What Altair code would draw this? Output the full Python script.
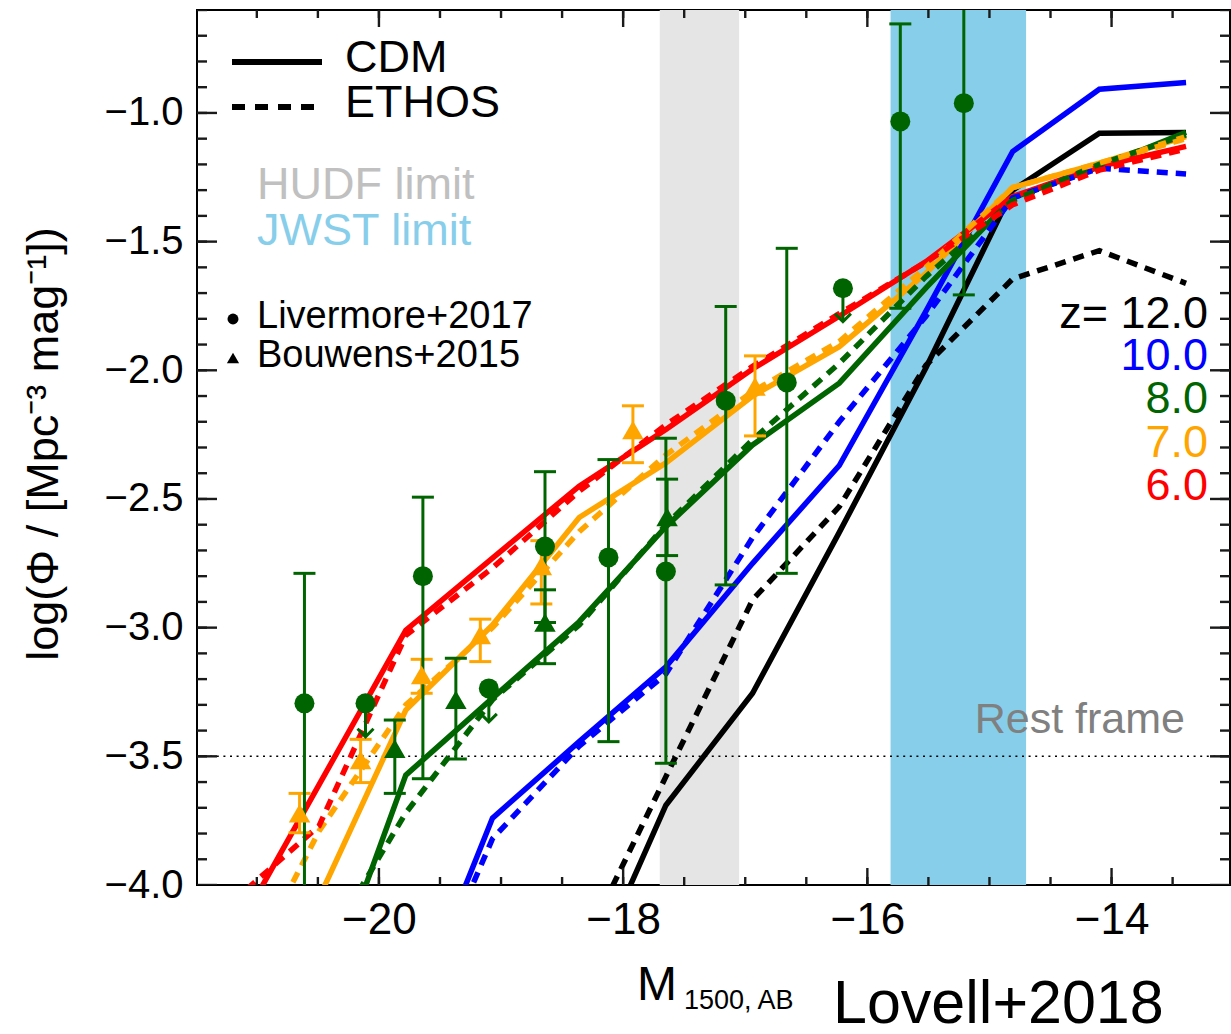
import altair as alt
import pandas as pd

FONT = "Liberation Sans, Arial, Helvetica, sans-serif"

# ---------------- model luminosity functions ----------------
M_grid = [-21.20, -20.49, -19.78, -19.07, -18.36, -17.65, -16.94, -16.23, -15.52, -14.81, -14.10, -13.39]

cdm_z6 = [-4.21, -3.61, -3.01, -2.73, -2.45, -2.23, -1.995, -1.79, -1.578, -1.325, -1.208, -1.13]
cdm_z7 = [None, -4.05, -3.32, -2.99, -2.572, -2.36, -2.10, -1.908, -1.623, -1.29, -1.195, -1.092]
cdm_z8 = [None, -4.50, -3.573, -3.274, -2.977, -2.608, -2.29, -2.05, -1.68, -1.33, -1.21, -1.075]
cdm_z10 = [None, None, -4.58, -3.74, -3.443, -3.152, -2.75, -2.37, -1.77, -1.15, -0.908, -0.882]
cdm_z12 = [None, None, None, None, -4.45, -3.69, -3.255, -2.63, -1.99, -1.30, -1.079, -1.076]

ethos_z6 = [-4.065, -3.77, -3.03, -2.768, -2.47, -2.212, -1.985, -1.78, -1.58, -1.357, -1.222, -1.14]
ethos_z7 = [-4.45, -3.79, -3.30, -3.00, -2.627, -2.329, -2.083, -1.888, -1.60, -1.29, -1.195, -1.10]
ethos_z8 = [None, -4.28, -3.72, -3.28, -2.99, -2.60, -2.27, -1.973, -1.636, -1.34, -1.20, -1.085]
ethos_z10 = [None, None, -4.6, -3.82, -3.46, -3.18, -2.65, -2.20, -1.79, -1.33, -1.215, -1.237]
ethos_z12 = [None, None, None, None, -4.27, -3.579, -2.892, -2.53, -1.98, -1.645, -1.535, -1.662]

z_names = ["12.0", "10.0", "8.0", "7.0", "6.0"]
z_colors = ["#000000", "#0000FF", "#006400", "#FFA500", "#FF0000"]

# ---------------- observations ----------------
# Livermore+2017 (green circles)
liv_M = [-20.61, -20.11, -19.64, -19.10, -18.64, -18.12, -17.65, -17.16, -16.66, -16.20, -15.73, -15.21]
liv_phi = [-3.294, -3.294, -2.80, -3.236, -2.685, -2.727, -2.782, -2.118, -2.047, -1.681, -1.033, -0.962]
liv_hi = [-2.789, None, -2.493, None, -2.394, -2.347, -2.264, -1.752, -1.526, None, -0.654, -0.45]
liv_lo = [-4.50, None, -3.587, None, -2.98, -3.443, -3.527, -2.834, -2.789, None, -1.759, -1.707]
liv_uplim = [False, True, False, True, False, False, False, False, False, True, False, False]

# Bouwens+2015 z=8 (green triangles)
b8_M = [-19.87, -19.37, -18.64, -17.64]
b8_phi = [-3.47, -3.28, -2.98, -2.57]
b8_hi = [-3.359, -3.119, -2.853, -2.423]
b8_lo = [-3.644, -3.51, -3.14, -2.72]

# Bouwens+2015 z=7 (orange triangles)
b7_M = [-20.65, -20.15, -19.65, -19.17, -18.67, -17.92, -16.92]
b7_phi = [-3.721, -3.514, -3.184, -3.028, -2.76, -2.232, -2.063]
b7_hi = [-3.644, -3.434, -3.123, -2.967, -2.662, -2.138, -1.944]
b7_lo = [-3.797, -3.602, -3.255, -3.132, -2.908, -2.359, -2.255]

# survey limits (shaded bands)
hudf_band = [-17.70, -17.05]
jwst_band = [-15.81, -14.70]

# axes
x_labels = [-20, -18, -16, -14]
x_minor = [-21.0 + 0.5 * i for i in range(16)]
y_labels = [-4.0, -3.5, -3.0, -2.5, -2.0, -1.5, -1.0]
y_minor = [round(-3.9 + 0.1 * i, 1) for i in range(34)]
rest_frame_level = -3.5

# ---------------- scales ----------------
W, H = 1033, 875
X_DOM = [-21.49, -13.03]
Y_DOM = [-4.0, -0.6]
xs = alt.Scale(domain=X_DOM, nice=False, zero=False)
ys = alt.Scale(domain=Y_DOM, nice=False, zero=False)
PX_PER_X = W / (X_DOM[1] - X_DOM[0])
PX_PER_Y = H / (Y_DOM[1] - Y_DOM[0])

x_axis = alt.Axis(values=x_labels, format="d", ticks=False, domain=False, grid=False,
                  labelFont=FONT, labelFontSize=44, labelColor="black", labelPadding=13,
                  title=None, labelFlush=False)
y_axis = alt.Axis(values=y_labels, format=".1f", ticks=False, domain=False, grid=False,
                  labelFont=FONT, labelFontSize=40, labelColor="black", labelPadding=14,
                  title=None, labelFlush=False)


def X(f):
    return alt.X(f, type="quantitative", scale=xs, axis=x_axis)


def Y(f):
    return alt.Y(f, type="quantitative", scale=ys, axis=y_axis)


def model_rows(series_list, model):
    rows = []
    for zi, series in enumerate(series_list):
        for m, p in zip(M_grid, series):
            if p is not None:
                rows.append({"M": m, "phi": p, "z": z_names[zi], "model": model})
    return pd.DataFrame(rows)


cdm_df = model_rows([cdm_z12, cdm_z10, cdm_z8, cdm_z7, cdm_z6], "CDM")
ethos_df = model_rows([ethos_z12, ethos_z10, ethos_z8, ethos_z7, ethos_z6], "ETHOS")

color_enc = alt.Color("z:N", scale=alt.Scale(domain=z_names, range=z_colors), legend=None)

liv_df = pd.DataFrame({"M": liv_M, "phi": liv_phi, "hi": liv_hi, "lo": liv_lo, "ul": liv_uplim})
liv_err = liv_df.dropna(subset=["hi"])
liv_ul = liv_df[liv_df["ul"]].copy()
liv_ul["tip"] = liv_ul["phi"] - 0.13

b8_df = pd.DataFrame({"M": b8_M, "phi": b8_phi, "hi": b8_hi, "lo": b8_lo})
b7_df = pd.DataFrame({"M": b7_M, "phi": b7_phi, "hi": b7_hi, "lo": b7_lo})

one = pd.DataFrame({"a": [0]})

# ---------------- inward frame ticks on all four sides ----------------
TICK_COLOR = "#1a1a1a"
tk_M, tk_lo, tk_hi = [], [], []
for vals, ln in ((x_minor, 8), (x_labels, 17)):
    dy = ln / PX_PER_Y
    for v in vals:
        tk_M += [float(v), float(v)]
        tk_lo += [Y_DOM[0], Y_DOM[1] - dy]
        tk_hi += [Y_DOM[0] + dy, Y_DOM[1]]
xtick_df = pd.DataFrame({"M": tk_M, "lo": tk_lo, "hi": tk_hi})

ty_P, ty_a, ty_b = [], [], []
for vals, ln in ((y_minor, 10), (y_labels, 20)):
    dx = ln / PX_PER_X
    for v in vals:
        ty_P += [float(v), float(v)]
        ty_a += [X_DOM[0], X_DOM[1] - dx]
        ty_b += [X_DOM[0] + dx, X_DOM[1]]
ytick_df = pd.DataFrame({"phi": ty_P, "xa": ty_a, "xb": ty_b})

xtick_layer = alt.Chart(xtick_df).mark_rule(color=TICK_COLOR, strokeWidth=2.4, clip=True).encode(
    x=X("M"), y=Y("lo"), y2="hi")
ytick_layer = alt.Chart(ytick_df).mark_rule(color=TICK_COLOR, strokeWidth=2.4, clip=True).encode(
    y=Y("phi"), x=X("xa"), x2="xb")

# ---------------- layers ----------------
bands = alt.Chart(pd.DataFrame({
    "x0": [hudf_band[0], jwst_band[0]], "x1": [hudf_band[1], jwst_band[1]],
    "c": ["#e5e5e5", "#87CEEB"]})).mark_rect(clip=True).encode(
    x=X("x0"), x2="x1", y=alt.value(0), y2=alt.value(H), color=alt.Color("c:N", scale=None))

rest_line = alt.Chart(one).mark_rule(color="black", strokeWidth=1.6, strokeDash=[2, 4.6]).encode(
    y=Y("v"), x=alt.value(0), x2=alt.value(W)).transform_calculate(v=str(rest_frame_level))

solid = alt.Chart(cdm_df).mark_line(strokeWidth=5.5, clip=True, strokeJoin="miter").encode(
    x=X("M"), y=Y("phi"), color=color_enc, detail="z:N")
dashed = alt.Chart(ethos_df).mark_line(strokeWidth=5.5, clip=True, strokeDash=[11, 8]).encode(
    x=X("M"), y=Y("phi"), color=color_enc, detail="z:N")

GREEN = "#006400"
ORANGE = "#FFA500"


def errbars(df, color):
    bar = alt.Chart(df).mark_rule(color=color, strokeWidth=3, clip=True).encode(
        x=X("M"), y=Y("lo"), y2="hi")
    cap_hi = alt.Chart(df).mark_tick(color=color, orient="horizontal", size=22, thickness=3,
                                     clip=True, opacity=1).encode(x=X("M"), y=Y("hi"))
    cap_lo = alt.Chart(df).mark_tick(color=color, orient="horizontal", size=22, thickness=3,
                                     clip=True, opacity=1).encode(x=X("M"), y=Y("lo"))
    return [bar, cap_hi, cap_lo]


err_layers = errbars(b7_df, ORANGE) + errbars(b8_df, GREEN) + errbars(liv_err, GREEN)

ul_shaft = alt.Chart(liv_ul).mark_rule(color=GREEN, strokeWidth=3).encode(
    x=X("M"), y=Y("phi"), y2="tip")
ul_head = alt.Chart(liv_ul).mark_point(shape="M-1,-1L0,0L1,-1", filled=False, size=256,
                                       strokeWidth=3, color=GREEN, opacity=1).encode(
    x=X("M"), y=Y("tip"))

b7_pts = alt.Chart(b7_df).mark_point(shape="triangle-up", filled=True, size=460, color=ORANGE,
                                     opacity=1).encode(x=X("M"), y=Y("phi"))
b8_pts = alt.Chart(b8_df).mark_point(shape="triangle-up", filled=True, size=460, color=GREEN,
                                     opacity=1).encode(x=X("M"), y=Y("phi"))
liv_pts = alt.Chart(liv_df).mark_point(shape="circle", filled=True, size=400, color=GREEN,
                                       opacity=1).encode(x=X("M"), y=Y("phi"))


# ---------------- annotations ----------------
def label(txt, x, y, size, color="black", align="left", baseline="alphabetic", angle=0):
    return alt.Chart(one).mark_text(text=txt, font=FONT, fontSize=size, color=color, align=align,
                                    baseline=baseline, angle=angle).encode(
        x=alt.value(x), y=alt.value(y))


leg_solid = alt.Chart(one).mark_rule(color="black", strokeWidth=6).encode(
    x=alt.value(35), x2=alt.value(125), y=alt.value(52))
leg_dash = alt.Chart(one).mark_rule(color="black", strokeWidth=6, strokeDash=[13, 10]).encode(
    x=alt.value(35), x2=alt.value(125), y=alt.value(97))
leg_circ = alt.Chart(one).mark_point(shape="circle", filled=True, size=120, color="black",
                                     opacity=1).encode(x=alt.value(36), y=alt.value(309))
leg_tri = alt.Chart(one).mark_point(shape="triangle-up", filled=True, size=150, color="black",
                                    opacity=1).encode(x=alt.value(36), y=alt.value(348))

texts = [
    label("CDM", 148, 62, 45),
    label("ETHOS", 148, 107, 45),
    label("HUDF limit", 60, 189, 45, color="#c0c0c0"),
    label("JWST limit", 60, 235, 45, color="#87CEEB"),
    label("Livermore+2017", 60, 318, 38),
    label("Bouwens+2015", 60, 357, 38),
    label("z= 12.0", 1011, 318, 45, align="right"),
    label("10.0", 1011, 360, 45, color="#0000FF", align="right"),
    label("8.0", 1011, 403, 45, color="#006400", align="right"),
    label("7.0", 1011, 447, 45, color="#FFA500", align="right"),
    label("6.0", 1011, 490, 45, color="#FF0000", align="right"),
    label("Rest frame", 988, 723, 43, color="#808080", align="right"),
    label("M", 440, 990, 48),
    label("1500, AB", 487, 999, 27),
    label("Lovell+2018", 636, 1013, 61),
    label("log(\u03a6 / [Mpc\u207b\u00b3 mag\u207b\u00b9])", -139, 434, 45, align="center", angle=270),
]

chart = alt.layer(
    bands, rest_line, solid, dashed, *err_layers, ul_shaft, ul_head,
    b7_pts, b8_pts, liv_pts, leg_solid, leg_dash, leg_circ, leg_tri, *texts,
    xtick_layer, ytick_layer
).properties(
    width=W, height=H,
    autosize=alt.AutoSizeParams(type="none"),
    padding={"left": 197, "top": 10, "right": 1, "bottom": 149},
    background="white",
).configure_view(stroke="black", strokeWidth=2)

chart.save("out.html", embed_options={"renderer": "svg", "actions": False})
